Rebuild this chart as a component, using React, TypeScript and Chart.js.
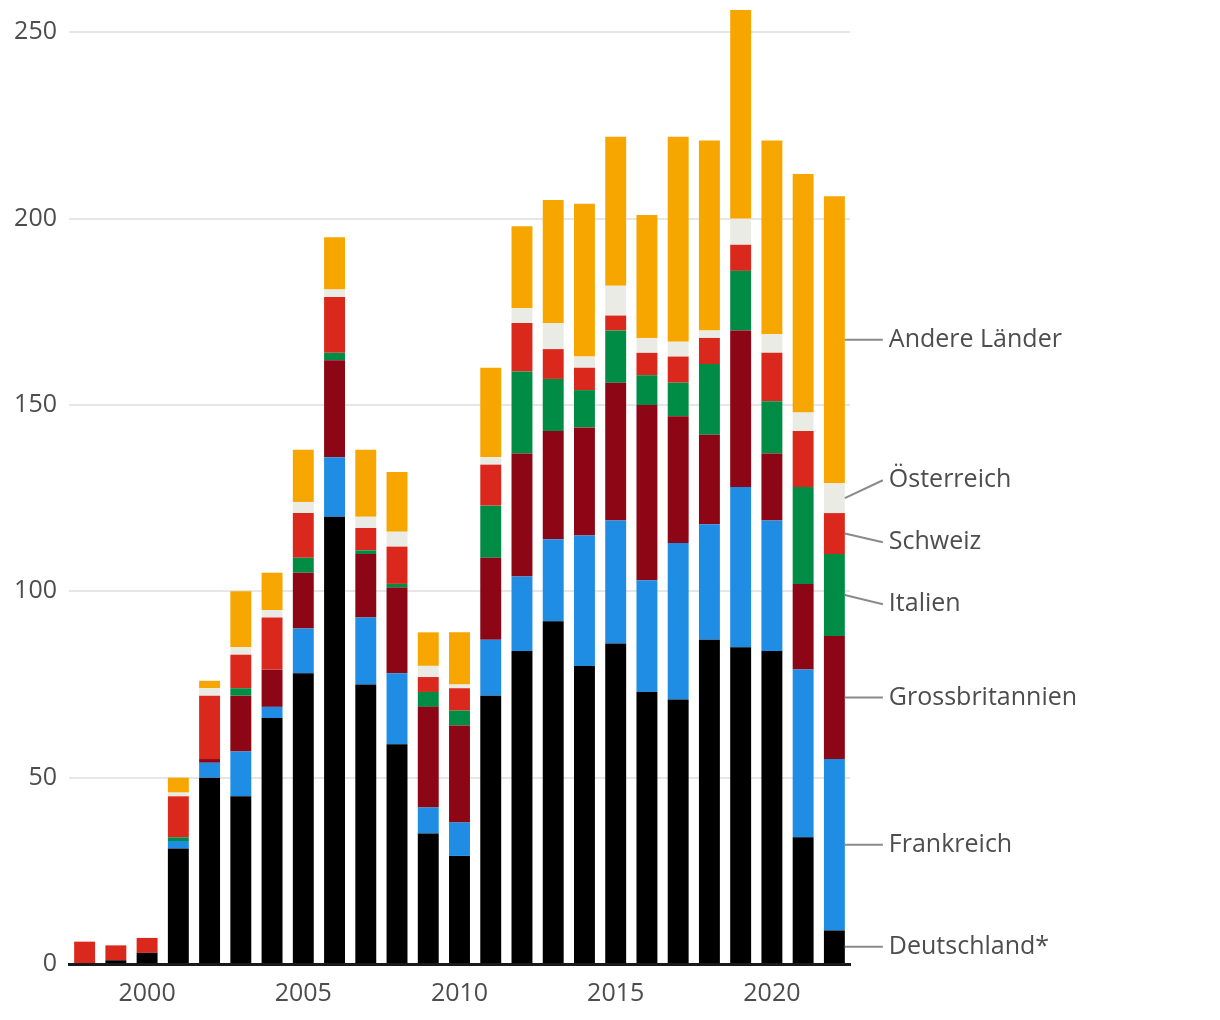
import React, { useEffect, useRef } from "react";
import { Chart, registerables } from "chart.js";

Chart.register(...registerables);

const years = [
  "1998", "1999", "2000", "2001", "2002", "2003", "2004", "2005", "2006", "2007",
  "2008", "2009", "2010", "2011", "2012", "2013", "2014", "2015", "2016", "2017",
  "2018", "2019", "2020", "2021", "2022",
];

const deutschland = [0, 1, 3, 31, 50, 45, 66, 78, 120, 75, 59, 35, 29, 72, 84, 92, 80, 86, 73, 71, 87, 85, 84, 34, 9];
const frankreich = [0, 0, 0, 2, 4, 12, 3, 12, 16, 18, 19, 7, 9, 15, 20, 22, 35, 33, 30, 42, 31, 43, 35, 45, 46];
const grossbritannien = [0, 0, 0, 0, 1, 15, 10, 15, 26, 17, 23, 27, 26, 22, 33, 29, 29, 37, 47, 34, 24, 42, 18, 23, 33];
const italien = [0, 0, 0, 1, 0, 2, 0, 4, 2, 1, 1, 4, 4, 14, 22, 14, 10, 14, 8, 9, 19, 16, 14, 26, 22];
const schweiz = [6, 4, 4, 11, 17, 9, 14, 12, 15, 6, 10, 4, 6, 11, 13, 8, 6, 4, 6, 7, 7, 7, 13, 15, 11];
const oesterreich = [0, 0, 0, 1, 2, 2, 2, 3, 2, 3, 4, 3, 1, 2, 4, 7, 3, 8, 4, 4, 2, 7, 5, 5, 8];
const andere = [0, 0, 0, 4, 2, 15, 10, 14, 14, 18, 16, 9, 14, 24, 22, 33, 41, 40, 33, 55, 51, 56, 52, 64, 77];

const seriesNames = ["Deutschland*", "Frankreich", "Grossbritannien", "Italien", "Schweiz", "Österreich", "Andere Länder"];
const seriesValues = [deutschland, frankreich, grossbritannien, italien, schweiz, oesterreich, andere];
const seriesColors = ["#000000", "#1f8de3", "#8c0615", "#008c45", "#da291c", "#ebebe5", "#f7a600"];

const yTicks = [0, 50, 100, 150, 200, 250];
const xTickYears = ["2000", "2005", "2010", "2015", "2020"];

const FONT = "'Open Sans', sans-serif";
const TEXT = "#4d4d4d";

const labelPlugin = {
  id: "endLabels",
  afterDatasetsDraw(chart: any) {
    const ctx = chart.ctx;
    const items: { mid: number; pos: number; x: number; label: string }[] = [];
    chart.data.datasets.forEach((ds: any, i: number) => {
      const meta = chart.getDatasetMeta(i);
      const el = meta.data[meta.data.length - 1];
      if (!el) return;
      const mid = (el.y + el.base) / 2;
      items.push({ mid, pos: mid, x: el.x + el.width / 2, label: ds.label });
    });
    // collision avoidance
    const gap = 62;
    items.sort((a, b) => a.mid - b.mid);
    let groups = items.map((it) => [it]);
    let changed = true;
    const place = (g: any[]) => {
      const mean = g.reduce((s, it) => s + it.mid, 0) / g.length;
      const start = mean - ((g.length - 1) * gap) / 2;
      g.forEach((it, k) => (it.pos = start + k * gap));
    };
    groups.forEach(place);
    while (changed) {
      changed = false;
      for (let k = 0; k < groups.length - 1; k++) {
        const a = groups[k];
        const b = groups[k + 1];
        if (b[0].pos - a[a.length - 1].pos < gap - 0.01) {
          const merged = a.concat(b);
          place(merged);
          groups.splice(k, 2, merged);
          changed = true;
          break;
        }
      }
    }
    ctx.save();
    ctx.strokeStyle = "#8a8a8a";
    ctx.lineWidth = 2;
    ctx.fillStyle = TEXT;
    ctx.font = `25px ${FONT}`;
    ctx.textBaseline = "middle";
    ctx.textAlign = "left";
    items.forEach((it) => {
      ctx.beginPath();
      ctx.moveTo(it.x, it.mid);
      ctx.lineTo(it.x + 38, it.pos);
      ctx.stroke();
      ctx.fillText(it.label, it.x + 44, it.pos);
    });
    ctx.restore();
  },
};

export default function App() {
  const ref = useRef<HTMLCanvasElement | null>(null);
  useEffect(() => {
    if (!ref.current) return;
    const chart = new Chart(ref.current, {
      type: "bar",
      data: {
        labels: years,
        datasets: seriesNames.map((name, i) => ({
          label: name,
          data: seriesValues[i],
          backgroundColor: seriesColors[i],
          borderWidth: 0,
          categoryPercentage: 1,
          barPercentage: 0.67,
        })),
      },
      options: {
        responsive: false,
        animation: false,
        events: [],
        layout: { padding: { left: 8, right: 370, top: 10, bottom: 0 } },
        plugins: { legend: { display: false }, tooltip: { enabled: false } },
        scales: {
          x: {
            stacked: true,
            grid: { display: false, drawTicks: false },
            border: { display: true, color: "#1a1a1a", width: 3 },
            afterFit: (s: any) => {
              s.height = 56;
              s.paddingLeft = 0;
              s.paddingRight = 0;
            },
            ticks: {
              autoSkip: false,
              maxRotation: 0,
              padding: 15,
              color: TEXT,
              font: { family: FONT, size: 25 },
              callback: function (this: any, v: any) {
                const lab = years[v as number];
                return xTickYears.includes(lab) ? lab : "";
              },
            },
          },
          y: {
            stacked: true,
            min: 0,
            max: 256,
            afterBuildTicks: (s: any) => {
              s.ticks = yTicks.map((v) => ({ value: v }));
            },
            afterFit: (s: any) => {
              s.width = 61;
              s.paddingTop = 0;
              s.paddingBottom = 0;
            },
            grid: { color: "#e6e6e6", lineWidth: 2, drawTicks: false },
            border: { display: false },
            ticks: {
              padding: 12,
              color: TEXT,
              font: { family: FONT, size: 25 },
            },
          },
        },
      },
      plugins: [labelPlugin],
    });
    return () => chart.destroy();
  }, []);
  return (
    <div style={{ position: "absolute", left: 0, top: 0, width: 1220, height: 1020, background: "#fff" }}>
      <canvas ref={ref} width={1220} height={1020} style={{ width: 1220, height: 1020 }} />
    </div>
  );
}
